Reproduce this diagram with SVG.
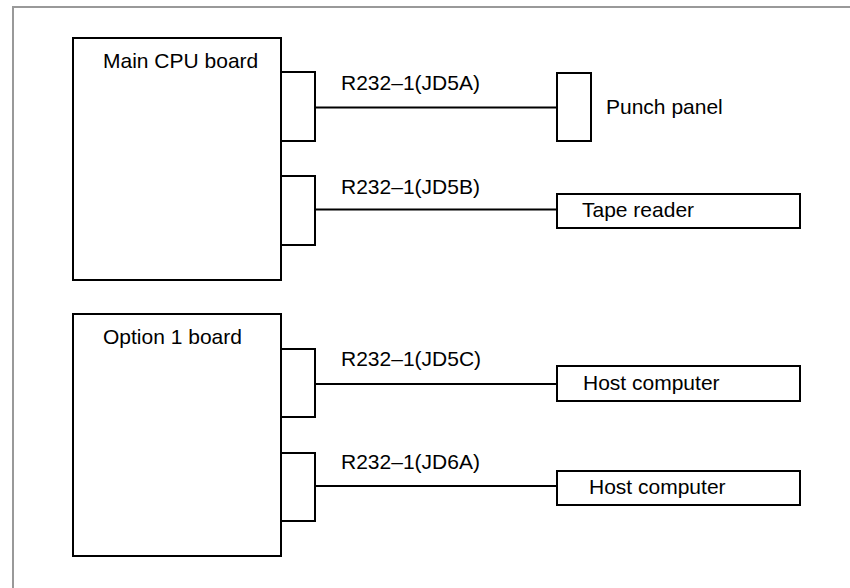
<svg xmlns="http://www.w3.org/2000/svg" width="850" height="588" viewBox="0 0 850 588">
<style>
.box{fill:#fff;stroke:#000;stroke-width:2}
.ln{stroke:#000;stroke-width:2;fill:none}
.frame{stroke:#999;stroke-width:2;fill:none}
text{font-family:"Liberation Sans",Arial,sans-serif;font-size:21px;fill:#000}
</style>
<rect width="850" height="588" fill="#fff"/>
<path class="frame" d="M13,588 V7 H850"/>
<g id="main-cpu-board">
<rect class="box" x="73" y="38" width="208" height="242"/>
<text x="103" y="67.5">Main CPU board</text>
<rect class="box" x="281" y="72" width="34" height="69"/>
<rect class="box" x="281" y="176" width="34" height="69"/>
</g>
<g id="option1-board">
<rect class="box" x="73" y="314" width="208" height="242"/>
<text x="103" y="344">Option 1 board</text>
<rect class="box" x="281" y="349" width="34" height="68"/>
<rect class="box" x="281" y="453" width="34" height="68"/>
</g>
<g id="punch-panel">
<rect class="box" x="557" y="73" width="34" height="68"/>
<text x="606" y="113.5">Punch panel</text>
</g>
<g id="tape-reader">
<rect class="box" x="557" y="194" width="243" height="34"/>
<text x="582" y="216.5">Tape reader</text>
</g>
<g id="host-computer-1">
<rect class="box" x="557" y="366" width="243" height="35"/>
<text x="583" y="389.5">Host computer</text>
</g>
<g id="host-computer-2">
<rect class="box" x="557" y="471" width="243" height="34"/>
<text x="589" y="494">Host computer</text>
</g>
<g id="connectors">
<line class="ln" x1="315" y1="107.5" x2="557" y2="107.5"/>
<line class="ln" x1="315" y1="209.5" x2="557" y2="209.5"/>
<line class="ln" x1="315" y1="384" x2="557" y2="384"/>
<line class="ln" x1="315" y1="486" x2="557" y2="486"/>
<text x="341" y="90">R232–1(JD5A)</text>
<text x="341" y="193.5">R232–1(JD5B)</text>
<text x="341" y="366">R232–1(JD5C)</text>
<text x="341" y="469">R232–1(JD6A)</text>
</g>
</svg>
